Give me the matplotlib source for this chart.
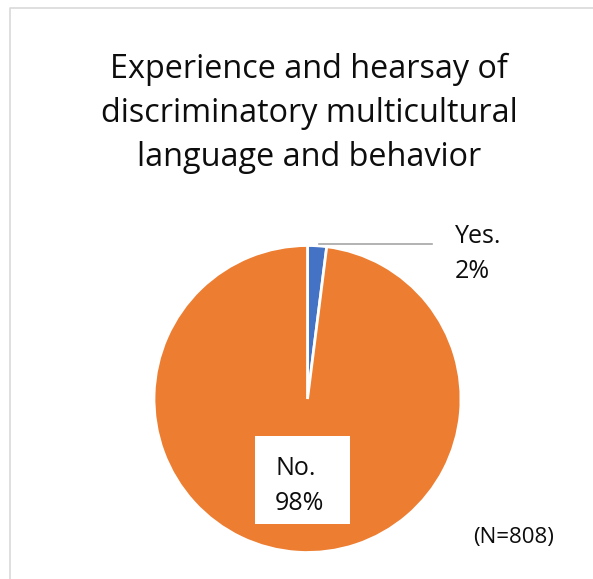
import matplotlib
matplotlib.use('Agg')
import matplotlib.pyplot as plt
from matplotlib.patches import Rectangle
from matplotlib.lines import Line2D

# datos
labels = ['Yes.', 'No.']
values = [2, 98]
colors = ['#4472C4', '#ED7D31']
title_lines = ['Experience and hearsay of',
               'discriminatory multicultural',
               'language and behavior']
note = '(N=808)'

W, H = 593, 579
plt.rcParams['font.family'] = ['Open Sans', 'DejaVu Sans']

fig = plt.figure(figsize=(W/100, H/100), dpi=100)
ax = fig.add_axes([0, 0, 1, 1])

def py(y):
    # pixel desde arriba -> coordenada y
    return H - y

# torta
cx, cy, r = 307.5, py(399), 153.5
ax.pie(values, colors=colors, startangle=90, counterclock=False,
       center=(cx, cy), radius=r, frame=True,
       wedgeprops=dict(edgecolor='white', linewidth=2))
ax.set_xlim(0, W)
ax.set_ylim(0, H)
ax.axis('off')

# marco del grafico
ax.add_line(Line2D([10, 10, W + 5], [py(H + 5), py(7.5), py(7.5)],
                   color='#D9D9D9', lw=1.2, clip_on=False))

# titulo
for i, line in enumerate(title_lines):
    ax.text(309, py(78 + 44*i), line, ha='center', va='baseline',
            fontsize=23.3, color='#0D0D0D')

# etiqueta Yes con linea guia
ax.add_line(Line2D([319, 432], [py(244), py(244)], color='#A6A6A6', lw=1.2))
ax.text(455, py(243), labels[0], ha='left', va='baseline', fontsize=18, color='#0D0D0D')
ax.text(455, py(278), f'{values[0]}%', ha='left', va='baseline', fontsize=18, color='#0D0D0D')

# etiqueta No en caja blanca
ax.add_patch(Rectangle((255, py(524)), 95, 88, fc='white', ec='none', zorder=3))
ax.text(275, py(475), labels[1], ha='left', va='baseline', fontsize=18, color='#0D0D0D', zorder=4)
ax.text(275, py(510), f'{values[1]}%', ha='left', va='baseline', fontsize=18, color='#0D0D0D', zorder=4)

ax.text(514, py(538), note, ha='center', va='center', fontsize=16, color='#0D0D0D')

plt.savefig('out.png', dpi=100)
